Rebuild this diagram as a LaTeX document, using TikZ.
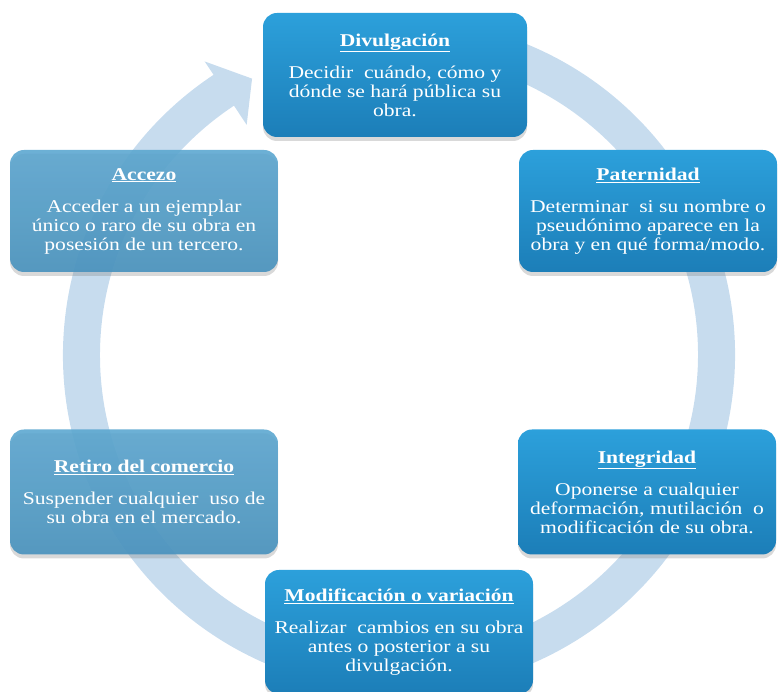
\documentclass[tikz,border=0pt]{standalone}
\usepackage{fontspec}
\setmainfont{Liberation Serif}[FakeStretch=1.2]
\usepackage{tikz}
\usetikzlibrary{calc,shadows}
\usepackage{xcolor}
\definecolor{ringblue}{HTML}{C7DCEE}
\definecolor{boxtop}{HTML}{2CA0DB}
\definecolor{boxbot}{HTML}{1C7EB8}
\definecolor{paletop}{HTML}{5CA7D0}
\definecolor{palebot}{HTML}{4892BE}
\newcommand{\ttl}[1]{\underline{\textbf{#1}}}

\begin{document}
\begin{tikzpicture}[x=1pt,y=1pt,
  box/.style={rounded corners=14pt, align=center, text=white, inner sep=0pt,
    font=\fontsize{18}{19}\selectfont, top color=boxtop, bottom color=boxbot,
    drop shadow={shadow xshift=0pt, shadow yshift=-4pt, opacity=0.3}},
  palebox/.style={box, top color=paletop, bottom color=palebot,
    fill opacity=0.9, text opacity=1}]
\useasboundingbox (0,0) rectangle (779,692);
\coordinate (c) at (399,337);
% the ring arrow
\fill [ringblue] ($(c)+(80:336)$) arc [start angle=80, end angle=-236.5, radius=336]
  -- ($(c)+(-236.5:352)$) -- ($(c)+(-242:313)$) -- ($(c)+(-236.5:276)$)
  -- ($(c)+(-236.5:299)$) arc [start angle=-236.5, end angle=80, radius=299] -- cycle;
% boxes
\node [box, minimum width=264, minimum height=124] (divul) at (395,617)
  {\ttl{Divulgación}\\[13pt]Decidir\ \ cuándo, cómo y\\dónde se hará pública su\\obra.};
\node [box, minimum width=258, minimum height=122] (pater) at (648,481)
  {\ttl{Paternidad}\\[13pt]Determinar\ \ si su nombre o\\pseudónimo aparece en la\\obra y en qué forma/modo.};
\node [box, minimum width=258, minimum height=125] (integ) at (647,200)
  {\ttl{Integridad}\\[13pt]Oponerse a cualquier\\deformación, mutilación\ \ o\\modificación de su obra.};
\node [box, minimum width=268, minimum height=124] (modif) at (399,60)
  {\ttl{Modificación o variación}\\[13pt]Realizar\ \ cambios en su obra\\antes o posterior a su\\divulgación.};
\node [palebox, minimum width=268, minimum height=125] (retiro) at (144,200)
  {\ttl{Retiro del comercio}\\[13pt]Suspender cualquier\ \ uso de\\su obra en el mercado.};
\node [palebox, minimum width=268, minimum height=122] (accezo) at (144,481)
  {\ttl{Accezo}\\[13pt]Acceder a un ejemplar\\único o raro de su obra en\\posesión de un tercero.};
\end{tikzpicture}
\end{document}
